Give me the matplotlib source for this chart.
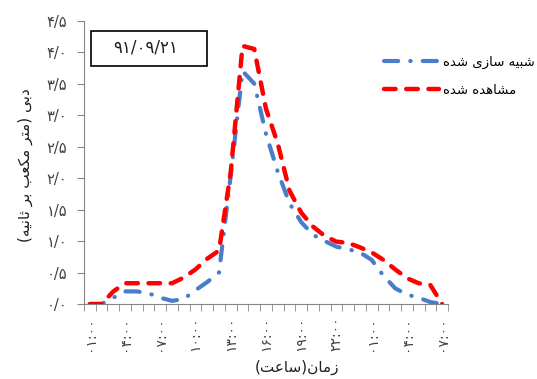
import matplotlib
matplotlib.use("Agg")
import matplotlib.pyplot as plt
from matplotlib.patches import Rectangle
import numpy as np

# presentation forms (isolated, final, initial, medial) for the letters we need
FORMS = {
    'ا': ('\uFE8D', '\uFE8E', None, None),
    'ب': ('\uFE8F', '\uFE90', '\uFE91', '\uFE92'),
    'ت': ('\uFE95', '\uFE96', '\uFE97', '\uFE98'),
    'ث': ('\uFE99', '\uFE9A', '\uFE9B', '\uFE9C'),
    'د': ('\uFEA9', '\uFEAA', None, None),
    'ر': ('\uFEAD', '\uFEAE', None, None),
    'ز': ('\uFEAF', '\uFEB0', None, None),
    'س': ('\uFEB1', '\uFEB2', '\uFEB3', '\uFEB4'),
    'ش': ('\uFEB5', '\uFEB6', '\uFEB7', '\uFEB8'),
    'ع': ('\uFEC9', '\uFECA', '\uFECB', '\uFECC'),
    'م': ('\uFEE1', '\uFEE2', '\uFEE3', '\uFEE4'),
    'ن': ('\uFEE5', '\uFEE6', '\uFEE7', '\uFEE8'),
    'ه': ('\uFEE9', '\uFEEA', '\uFEEB', '\uFEEC'),
    'ی': ('\uFBFC', '\uFBFD', '\uFBFE', '\uFBFF'),
    'ک': ('\uFB8E', '\uFB8F', '\uFB90', '\uFB91'),
}


def shape(s):
    # join letters and put the string in visual (left to right) order
    out = []
    for k, ch in enumerate(s):
        if ch not in FORMS:
            out.append(ch)
            continue
        iso, fin, ini, med = FORMS[ch]
        prev = s[k-1] if k > 0 else ''
        nxt = s[k+1] if k+1 < len(s) else ''
        jp = prev in FORMS and FORMS[prev][2] is not None
        jn = ini is not None and nxt in FORMS
        if jp and jn:
            out.append(med)
        elif jp:
            out.append(fin)
        elif jn:
            out.append(ini)
        else:
            out.append(iso)
    vis = ''.join(reversed(out))
    return vis.translate(str.maketrans('()', ')('))


# data, hourly from 01:00 to 07:00 next day
hour_labels = ['۰۱:۰۰', '۰۴:۰۰', '۰۷:۰۰', '۱۰:۰۰', '۱۳:۰۰', '۱۶:۰۰',
               '۱۹:۰۰', '۲۲:۰۰', '۰۱:۰۰', '۰۴:۰۰', '۰۷:۰۰']
observed = [0.0, 0.0, 0.2, 0.33, 0.33, 0.33, 0.33, 0.33, 0.42, 0.55, 0.72,
            0.85, 2.1, 4.1, 4.05, 3.1, 2.55, 1.8, 1.45, 1.23, 1.08, 0.99,
            0.97, 0.9, 0.82, 0.7, 0.55, 0.41, 0.33, 0.3, 0.0]
simulated = [0.0, 0.0, 0.1, 0.2, 0.2, 0.17, 0.1, 0.05, 0.08, 0.22, 0.35,
             0.5, 2.05, 3.7, 3.5, 2.7, 2.1, 1.6, 1.3, 1.1, 1.0, 0.91,
             0.87, 0.82, 0.7, 0.45, 0.25, 0.15, 0.1, 0.03, 0.0]
y_ticks = [0.0, 0.5, 1.0, 1.5, 2.0, 2.5, 3.0, 3.5, 4.0, 4.5]
y_tick_labels = ['۰/۰', '۰/۵', '۱/۰', '۱/۵', '۲/۰', '۲/۵', '۳/۰', '۳/۵', '۴/۰', '۴/۵']
date_text = '۹۱/۰۹/۲۱'

plt.rcParams['font.family'] = ['DejaVu Sans']

fig = plt.figure(figsize=(5.37, 3.79), dpi=100)
ax = fig.add_axes([84/537, 1-304/379, 364/537, 283.3/379])

x = np.arange(len(observed))
ax.plot(x, simulated, color='#4A7CC9', lw=3.0, dashes=(3.4, 2.9, 0.1, 2.9),
        dash_capstyle='round', solid_joinstyle='round',
        label=shape('شبیه سازی شده'), zorder=2)
ax.plot(x, observed, color='#FF0000', lw=3.2, dashes=(2.6, 2.4),
        dash_capstyle='round', solid_joinstyle='round',
        label=shape('مشاهده شده'), zorder=3)

ax.set_xlim(-0.5, len(observed) - 0.5)
ax.set_ylim(0, 4.5)

ax.set_xticks(x[::3])
ax.set_xticklabels(hour_labels, rotation=90, fontsize=10, color='#404040')
ax.set_xticks(np.arange(-0.5, len(observed)), minor=True)
ax.tick_params(axis='x', which='major', length=0, pad=9)
ax.tick_params(axis='x', which='minor', length=5, color='#868686')

ax.set_yticks(y_ticks)
ax.set_yticklabels(y_tick_labels, fontsize=10.5, color='#404040')
ax.tick_params(axis='y', length=5, color='#868686', pad=7)

for side in ['top', 'right']:
    ax.spines[side].set_visible(False)
for side in ['left', 'bottom']:
    ax.spines[side].set_color('#868686')

fig.text(297/537, 1-367/379, shape('زمان(ساعت)'), ha='center', va='center',
         fontsize=11, color='#202020')
fig.text(25/537, 1-165/379, shape('دبی (متر مکعب بر ثانیه)'), ha='center',
         va='center', rotation=90, fontsize=11, color='#202020')

# date box
fig.patches.append(Rectangle((91/537, 1-66/379), 116/537, 35/379,
                             transform=fig.transFigure, fill=False,
                             edgecolor='black', lw=1.2))
fig.text(146/537, 1-48/379, date_text, ha='center', va='center',
         fontsize=12, color='#202020')

ax.legend(loc='upper left', bbox_to_anchor=(372/537, 1-44/379),
          bbox_transform=fig.transFigure, frameon=False, fontsize=9.5,
          handlelength=4.2, handletextpad=0.3, labelspacing=1.1)

fig.savefig('out.png', dpi=100)
